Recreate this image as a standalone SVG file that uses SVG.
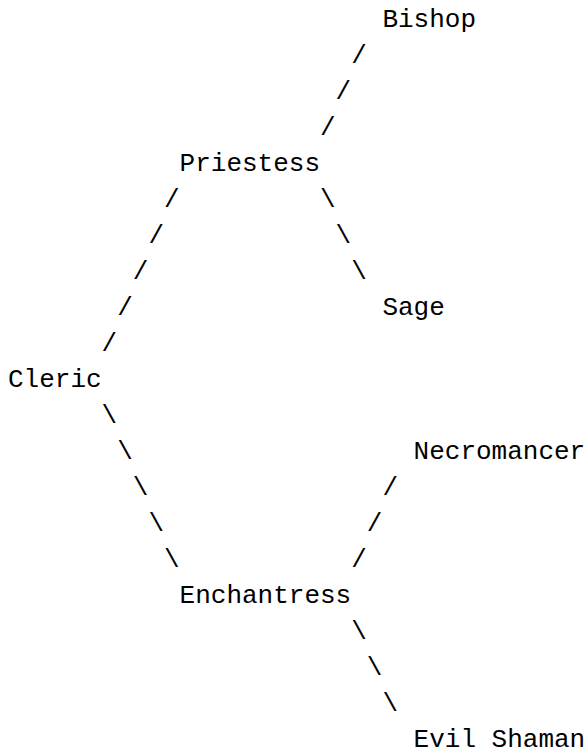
<svg xmlns="http://www.w3.org/2000/svg" width="587" height="751" viewBox="0 0 587 751">
<style>
text{font-family:"Liberation Mono","Courier New",monospace;font-size:26px;fill:#000;}
</style>
<rect width="587" height="751" fill="#fff"/>
<g id="connectors">
<text x="351.2" y="63">/</text>
<text x="335.6" y="99">/</text>
<text x="320" y="135">/</text>
<text x="164" y="207">/</text>
<text x="148.4" y="243">/</text>
<text x="132.8" y="279">/</text>
<text x="117.2" y="315">/</text>
<text x="101.6" y="351">/</text>
<text x="320" y="207">\</text>
<text x="335.6" y="243">\</text>
<text x="351.2" y="279">\</text>
<text x="101.6" y="423">\</text>
<text x="117.2" y="459">\</text>
<text x="132.8" y="495">\</text>
<text x="148.4" y="531">\</text>
<text x="164" y="567">\</text>
<text x="382.4" y="495">/</text>
<text x="366.8" y="531">/</text>
<text x="351.2" y="567">/</text>
<text x="351.2" y="639">\</text>
<text x="366.8" y="675">\</text>
<text x="382.4" y="711">\</text>
</g>
<g id="bishop"><text x="382.4" y="27">Bishop</text></g>
<g id="priestess"><text x="179.6" y="171">Priestess</text></g>
<g id="sage"><text x="382.4" y="315">Sage</text></g>
<g id="cleric"><text x="8" y="387">Cleric</text></g>
<g id="necromancer"><text x="413.6" y="459">Necromancer</text></g>
<g id="enchantress"><text x="179.6" y="603">Enchantress</text></g>
<g id="evil-shaman"><text x="413.6" y="747">Evil Shaman</text></g>
</svg>
